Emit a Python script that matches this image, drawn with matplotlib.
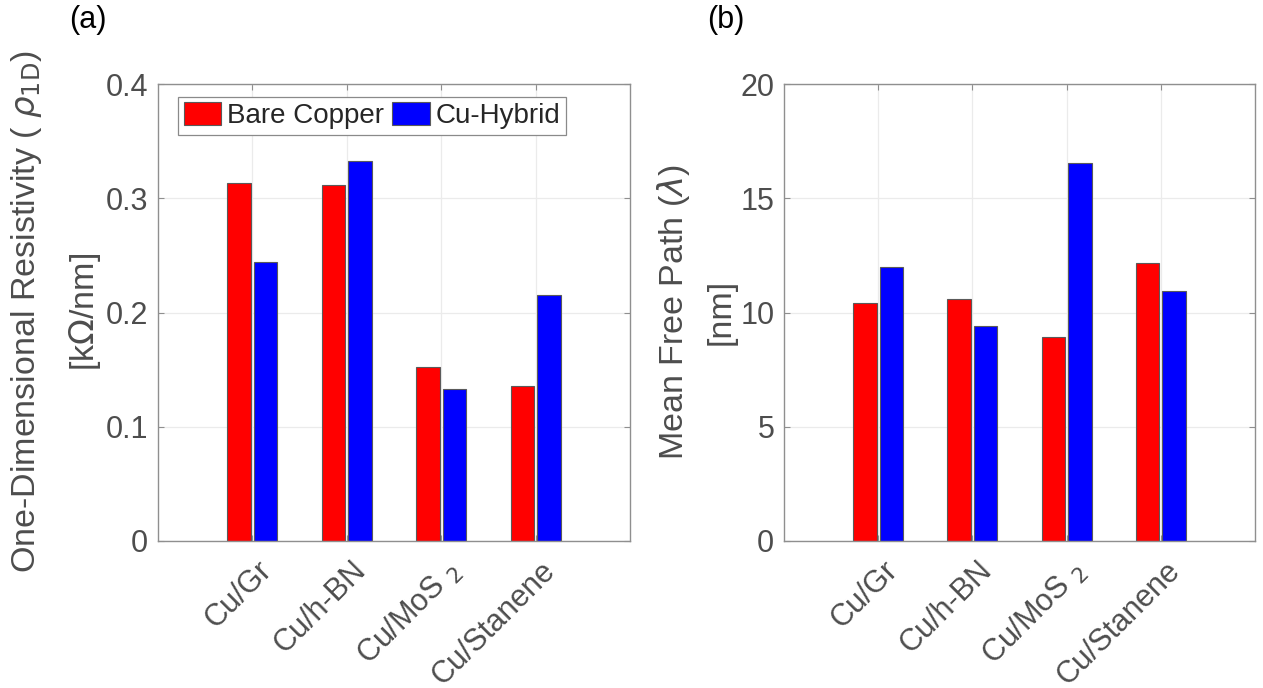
import numpy as np
import matplotlib
matplotlib.use("Agg")
import matplotlib.pyplot as plt
import matplotlib.transforms as mtransforms

plt.rcParams["font.family"] = ["Liberation Sans", "DejaVu Sans"]
plt.rcParams["mathtext.fontset"] = "dejavusans"

# data
categories = ["Cu/Gr", "Cu/h-BN", "Cu/MoS $_2$", "Cu/Stanene"]
series_names = ["Bare Copper", "Cu-Hybrid"]

rho_bare = [0.313, 0.312, 0.152, 0.136]
rho_hybrid = [0.244, 0.333, 0.133, 0.215]

mfp_bare = [10.42, 10.57, 8.92, 12.17]
mfp_hybrid = [11.98, 9.39, 16.56, 10.95]

rho_ticks = [0, 0.1, 0.2, 0.3, 0.4]
rho_ticklabels = ["0", "0.1", "0.2", "0.3", "0.4"]
mfp_ticks = [0, 5, 10, 15, 20]
mfp_ticklabels = ["0", "5", "10", "15", "20"]

W, H = 1263, 688
fig = plt.figure(figsize=(W / 100, H / 100), dpi=100)

ax_a = fig.add_axes([158 / W, 1 - 541 / H, 472 / W, 457 / H])
ax_b = fig.add_axes([784 / W, 1 - 541 / H, 471 / W, 457 / H])

x = np.arange(1, len(categories) + 1)
bw = 0.25
off = 0.14
spine_col = "#8f8f8f"
tick_col = "#4d4d4d"


def style_axes(ax, yticks, yticklabels, ylim):
    ax.set_xlim(0, 5)
    ax.set_ylim(ylim)
    ax.set_yticks(yticks)
    ax.set_yticklabels(yticklabels)
    ax.set_xticks(x)
    ax.set_xticklabels(categories, rotation=45, ha="right", va="center",
                       rotation_mode="anchor")
    ax.grid(True, color="#ebebeb", linewidth=0.9)
    ax.set_axisbelow(True)
    for s in ax.spines.values():
        s.set_color(spine_col)
        s.set_linewidth(1.0)
    ax.tick_params(axis="both", direction="in", length=4, width=0.8,
                   color=spine_col, labelcolor=tick_col, labelsize=22,
                   top=True, right=True)
    ax.tick_params(axis="x", pad=18)
    ax.tick_params(axis="y", pad=7)
    shift = mtransforms.ScaledTranslation(15 / 100, 0, fig.dpi_scale_trans)
    for lab in ax.get_xticklabels():
        lab.set_transform(lab.get_transform() + shift)


# (a) resistivity
ax_a.bar(x - off, rho_bare, bw, color="red", edgecolor="#5a5a5a",
         linewidth=0.8, label=series_names[0])
ax_a.bar(x + off, rho_hybrid, bw, color="blue", edgecolor="#5a5a5a",
         linewidth=0.8, label=series_names[1])
style_axes(ax_a, rho_ticks, rho_ticklabels, (0, 0.4))

leg = ax_a.legend(loc="upper left", bbox_to_anchor=(0.043, 0.972), ncol=2,
                  fontsize=20, frameon=True, fancybox=False, framealpha=1,
                  borderaxespad=0, borderpad=0.2, handlelength=1.35,
                  handleheight=0.9, handletextpad=0.2, columnspacing=0.3)
leg.get_frame().set_edgecolor("#8a8a8a")
leg.get_frame().set_linewidth(0.9)
for t in leg.get_texts():
    t.set_color("#262626")

# (b) mean free path
ax_b.bar(x - off, mfp_bare, bw, color="red", edgecolor="#5a5a5a",
         linewidth=0.8)
ax_b.bar(x + off, mfp_hybrid, bw, color="blue", edgecolor="#5a5a5a",
         linewidth=0.8)
style_axes(ax_b, mfp_ticks, mfp_ticklabels, (0, 20))

# y labels (two lines each)
ymid = 1 - 312 / H
fig.text(27 / W, ymid, r"One-Dimensional Resistivity ( $\rho_{\mathrm{1D}}$)",
         rotation=90, ha="center", va="center", fontsize=24.5, color=tick_col)
fig.text(85 / W, ymid, r"[k$\Omega$/nm]", rotation=90, ha="center",
         va="center", fontsize=24.5, color=tick_col)
fig.text(674 / W, ymid, r"Mean Free Path ($\lambda$)", rotation=90,
         ha="center", va="center", fontsize=24.5, color=tick_col)
fig.text(721 / W, ymid, "[nm]", rotation=90, ha="center", va="center",
         fontsize=24.5, color=tick_col)

# panel letters
fig.text(88 / W, 1 - 20 / H, "(a)", ha="center", va="center", fontsize=22,
         color="black")
fig.text(726 / W, 1 - 20 / H, "(b)", ha="center", va="center", fontsize=22,
         color="black")

plt.savefig("out.png", dpi=100)
